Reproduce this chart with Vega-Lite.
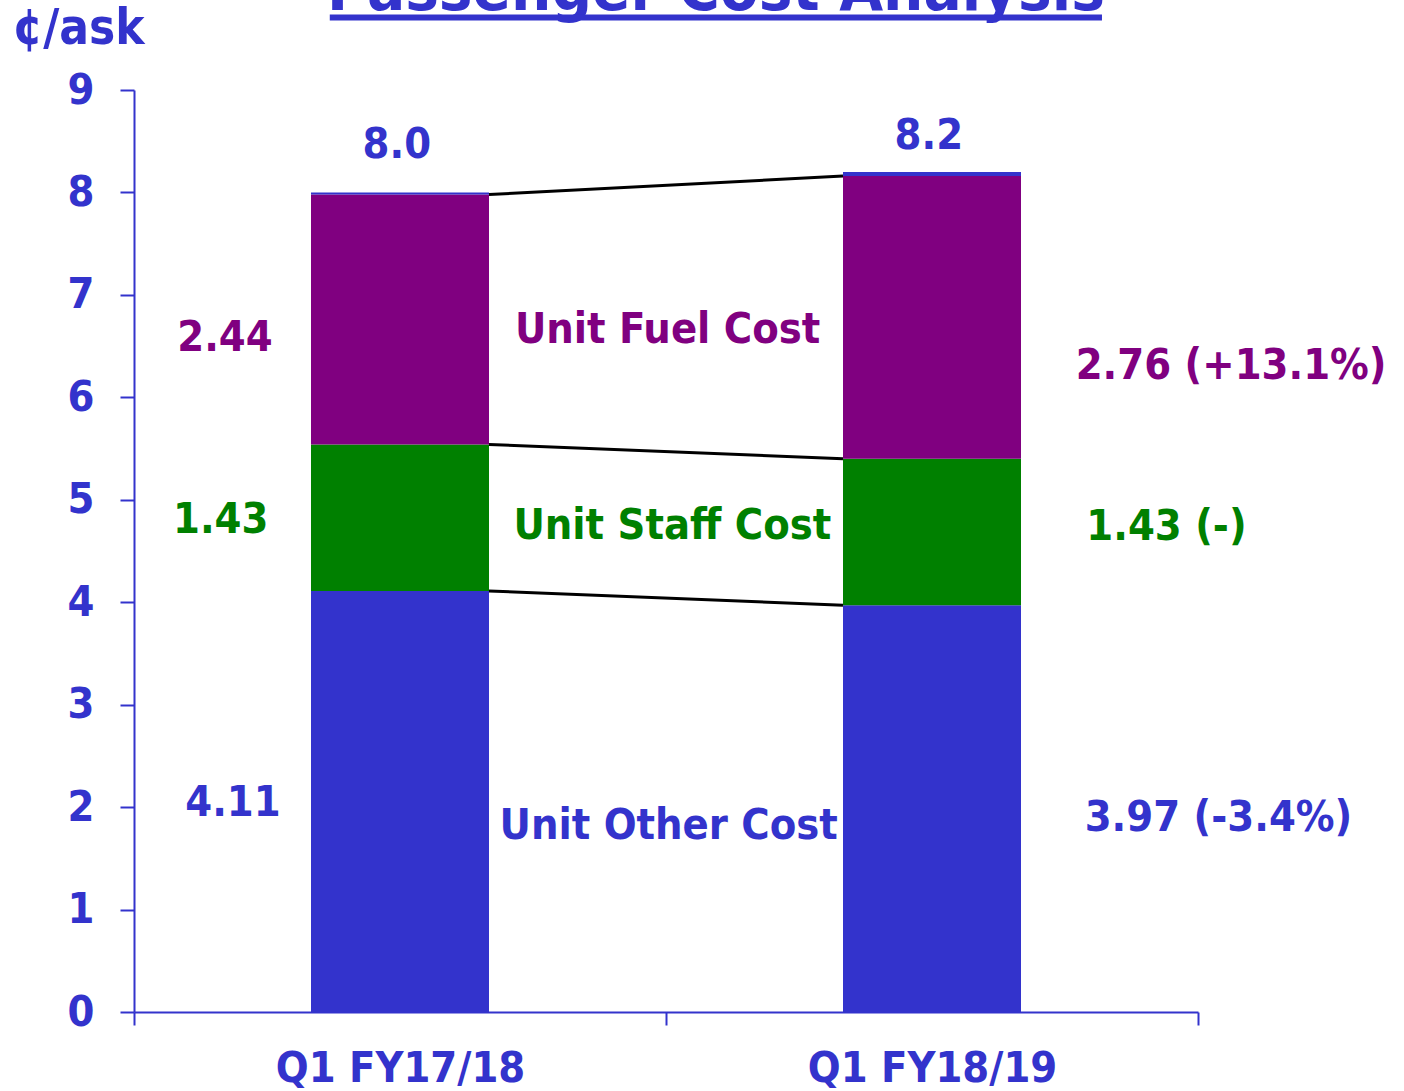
{
  "$schema": "https://vega.github.io/schema/vega-lite/v6.json",
  "width": 1064,
  "height": 922,
  "autosize": {"type": "none"},
  "padding": {"left": 134, "top": 90, "right": 206, "bottom": 79},
  "background": "white",
  "config": {
    "view": {"stroke": null},
    "font": "DejaVu Sans Condensed, DejaVu Sans",
    "text": {"font": "DejaVu Sans Condensed, DejaVu Sans", "fontWeight": "bold", "fontSize": 43}
  },
  "datasets": {
    "bars": [
      {"period": "Q1 FY17/18", "pos": 1, "series": "Unit Other Cost", "value": 4.11, "ord": 1},
      {"period": "Q1 FY17/18", "pos": 1, "series": "Unit Staff Cost", "value": 1.43, "ord": 2},
      {"period": "Q1 FY17/18", "pos": 1, "series": "Unit Fuel Cost", "value": 2.44, "ord": 3},
      {"period": "Q1 FY17/18", "pos": 1, "series": "Residual", "value": 0.02, "ord": 4},
      {"period": "Q1 FY18/19", "pos": 2, "series": "Unit Other Cost", "value": 3.97, "ord": 1},
      {"period": "Q1 FY18/19", "pos": 2, "series": "Unit Staff Cost", "value": 1.43, "ord": 2},
      {"period": "Q1 FY18/19", "pos": 2, "series": "Unit Fuel Cost", "value": 2.76, "ord": 3},
      {"period": "Q1 FY18/19", "pos": 2, "series": "Residual", "value": 0.04, "ord": 4}
    ],
    "connectors": [
      {"from": 4.11, "to": 3.97},
      {"from": 5.54, "to": 5.40},
      {"from": 7.98, "to": 8.16}
    ],
    "labels": [
      {"label": "2.44", "pos": 0.671, "y": 6.58, "series": "Unit Fuel Cost"},
      {"label": "1.43", "pos": 0.663, "y": 4.80, "series": "Unit Staff Cost"},
      {"label": "4.11", "pos": 0.686, "y": 2.04, "series": "Unit Other Cost"},
      {"label": "Unit Fuel Cost", "pos": 1.503, "y": 6.66, "series": "Unit Fuel Cost"},
      {"label": "Unit Staff Cost", "pos": 1.512, "y": 4.74, "series": "Unit Staff Cost"},
      {"label": "Unit Other Cost", "pos": 1.505, "y": 1.82, "series": "Unit Other Cost"},
      {"label": "8.0", "pos": 0.994, "y": 8.46, "series": "Unit Other Cost"},
      {"label": "8.2", "pos": 1.994, "y": 8.55, "series": "Unit Other Cost"}
    ],
    "rightLabels": [
      {"label": "2.76 (+13.1%)", "pos": 2.27, "y": 6.31, "series": "Unit Fuel Cost"},
      {"label": "1.43 (-)", "pos": 2.29, "y": 4.73, "series": "Unit Staff Cost"},
      {"label": "3.97 (-3.4%)", "pos": 2.287, "y": 1.89, "series": "Unit Other Cost"}
    ]
  },
  "layer": [
    {
      "data": {"name": "bars"},
      "mark": {"type": "bar", "size": 178},
      "encoding": {
        "x": {
          "field": "pos", "type": "quantitative",
          "scale": {"domain": [0.5, 2.5], "nice": false, "zero": false, "padding": 0},
          "axis": {
            "title": null, "grid": false,
            "values": [0.5, 1, 1.5, 2, 2.5],
            "labelExpr": "datum.value == 1 ? 'Q1 FY17/18' : datum.value == 2 ? 'Q1 FY18/19' : ''",
            "tickOpacity": {"condition": {"test": "datum.value == 1 || datum.value == 2", "value": 0}, "value": 1},
            "domainColor": "#3333CC", "domainWidth": 2,
            "tickColor": "#3333CC", "tickWidth": 2, "tickSize": 13,
            "labelFont": "DejaVu Sans Condensed, DejaVu Sans", "labelFontWeight": "bold", "labelFontSize": 43,
            "labelColor": "#3333CC", "labelPadding": 22, "labelFlush": false, "labelLimit": 0, "labelOverlap": false
          }
        },
        "y": {
          "field": "value", "type": "quantitative", "stack": "zero",
          "scale": {"domain": [0, 9], "nice": false},
          "axis": {
            "values": [0, 1, 2, 3, 4, 5, 6, 7, 8, 9],
            "format": "d",
            "grid": false,
            "title": "¢/ask", "titleAngle": 0, "titleAlign": "left", "titleBaseline": "alphabetic",
            "titleX": -122, "titleY": -47,
            "titleFont": "DejaVu Sans Condensed, DejaVu Sans", "titleFontWeight": "bold", "titleFontSize": 49, "titleColor": "#3333CC",
            "domainColor": "#3333CC", "domainWidth": 2,
            "tickColor": "#3333CC", "tickWidth": 2, "tickSize": 14,
            "labelFont": "DejaVu Sans Condensed, DejaVu Sans", "labelFontWeight": "bold", "labelFontSize": 43,
            "labelColor": "#3333CC", "labelPadding": 26
          }
        },
        "color": {
          "field": "series", "type": "nominal",
          "scale": {"domain": ["Unit Other Cost", "Unit Staff Cost", "Unit Fuel Cost", "Residual"], "range": ["#3333CC", "#008000", "#800080", "#3333CC"]},
          "legend": null
        },
        "order": {"field": "ord", "type": "quantitative"}
      }
    },
    {
      "data": {"name": "connectors"},
      "mark": {"type": "rule", "color": "black", "strokeWidth": 3},
      "encoding": {
        "x": {"datum": 1.1673, "type": "quantitative"},
        "x2": {"datum": 1.8327},
        "y": {"field": "from", "type": "quantitative"},
        "y2": {"field": "to"}
      }
    },
    {
      "data": {"name": "labels"},
      "mark": {"type": "text", "align": "center", "baseline": "middle"},
      "encoding": {
        "x": {"field": "pos", "type": "quantitative"},
        "y": {"field": "y", "type": "quantitative"},
        "text": {"field": "label"},
        "color": {"field": "series", "type": "nominal", "legend": null}
      }
    },
    {
      "data": {"name": "rightLabels"},
      "mark": {"type": "text", "align": "left", "baseline": "middle"},
      "encoding": {
        "x": {"field": "pos", "type": "quantitative"},
        "y": {"field": "y", "type": "quantitative"},
        "text": {"field": "label"},
        "color": {"field": "series", "type": "nominal", "legend": null}
      }
    },
    {
      "data": {"values": [{"title": "Passenger Cost Analysis"}]},
      "mark": {"type": "text", "align": "center", "baseline": "alphabetic", "fontSize": 63, "color": "#3333CC"},
      "encoding": {
        "x": {"datum": 1.594, "type": "quantitative"},
        "y": {"datum": 9.785, "type": "quantitative"},
        "text": {"field": "title"}
      }
    },
    {
      "data": {"values": [{"title": "Passenger Cost Analysis"}]},
      "mark": {"type": "rule", "color": "#3333CC", "strokeWidth": 6},
      "encoding": {
        "x": {"datum": 0.868, "type": "quantitative"},
        "x2": {"datum": 2.3195},
        "y": {"datum": 9.707, "type": "quantitative"}
      }
    }
  ]
}
